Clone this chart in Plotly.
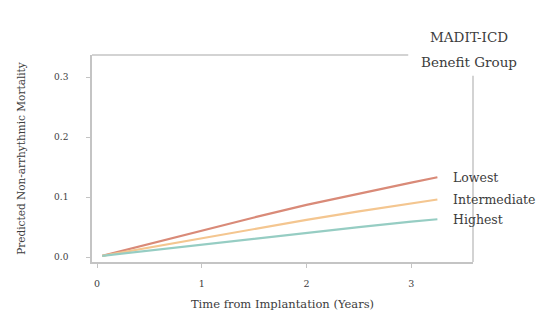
import plotly.graph_objects as go

years = [0.05, 0.5, 1.0, 1.5, 2.0, 2.5, 3.0, 3.25]
lowest = [0.002, 0.022, 0.045, 0.066, 0.087, 0.106, 0.124, 0.133]
intermediate = [0.002, 0.016, 0.032, 0.047, 0.062, 0.076, 0.089, 0.096]
highest = [0.002, 0.011, 0.021, 0.031, 0.041, 0.050, 0.059, 0.063]
series_names = ["Lowest", "Intermediate", "Highest"]
series_vals = [lowest, intermediate, highest]
colors = ["#d98a78", "#f4c690", "#96cdc3"]
x_ticks = [0, 1, 2, 3]
y_ticks = [0.0, 0.1, 0.2, 0.3]
y_ticklabels = ["0.0", "0.1", "0.2", "0.3"]

FONT = "DejaVu Serif"
GRAY = "#c4c4c4"
TXT = "#3c3c3c"

fig = go.Figure()
for name, vals, c in zip(series_names, series_vals, colors):
    fig.add_trace(go.Scatter(x=years, y=vals, mode="lines", name=name,
                             line=dict(color=c, width=2.2), showlegend=False))
    fig.add_annotation(x=3.38, y=vals[-1], text=name, showarrow=False,
                       xanchor="left", yanchor="middle",
                       font=dict(family=FONT, size=12.5, color=TXT))

fig.add_annotation(xref="paper", yref="paper", x=0.99, y=1.085, text="MADIT-ICD",
                   showarrow=False, xanchor="center", yanchor="middle",
                   font=dict(family=FONT, size=13.5, color=TXT))
fig.add_annotation(xref="paper", yref="paper", x=0.99, y=0.965, text="Benefit Group",
                   showarrow=False, xanchor="center", yanchor="middle",
                   font=dict(family=FONT, size=13.5, color=TXT))

# partial frame (top and right) as in the reference
fig.add_shape(type="line", xref="paper", yref="paper", x0=0, x1=0.83, y0=1, y1=1,
              line=dict(color=GRAY, width=1.5))
fig.add_shape(type="line", xref="paper", yref="paper", x0=1, x1=1, y0=0, y1=0.9,
              line=dict(color=GRAY, width=1.5))

fig.update_layout(
    width=550, height=325,
    margin=dict(l=92, r=77, t=55, b=63),
    paper_bgcolor="white", plot_bgcolor="white",
    font=dict(family=FONT, color=TXT),
    xaxis=dict(range=[-0.048, 3.59], tickvals=x_ticks, ticks="outside",
               ticklen=4, tickcolor=GRAY, showline=True, linecolor=GRAY,
               linewidth=1.5, showgrid=False, zeroline=False, automargin=False,
               ticklabelstandoff=8,
               tickfont=dict(family=FONT, size=9.5, color=TXT),
               title=dict(text="Time from Implantation (Years)",
                          font=dict(family=FONT, size=11.5, color=TXT),
                          standoff=12)),
    yaxis=dict(range=[-0.0083, 0.337], tickvals=y_ticks, ticktext=y_ticklabels,
               ticks="outside", ticklen=4, tickcolor=GRAY, showline=True,
               linecolor=GRAY, linewidth=1.5, showgrid=False, zeroline=False,
               automargin=False, ticklabelstandoff=16,
               tickfont=dict(family=FONT, size=9, color=TXT),
               title=dict(text="Predicted Non-arrhythmic Mortality",
                          font=dict(family=FONT, size=10.5, color=TXT),
                          standoff=26)),
)

fig.write_html("out.html", config={"displayModeBar": False},
               post_script="document.body.style.margin='0';")
